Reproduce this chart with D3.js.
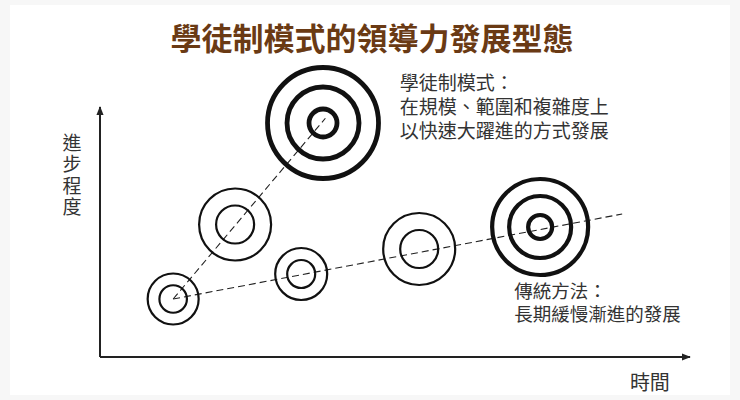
<!DOCTYPE html>
<html>
<head>
<meta charset="utf-8">
<script src="https://cdn.jsdelivr.net/npm/d3@7"></script>
<style>
  html, body { margin: 0; padding: 0; background: #f7f7f7; }
  svg { display: block; }
  text { font-family: "Noto Sans CJK TC", "Noto Sans CJK SC", "Noto Sans", sans-serif; }
</style>
</head>
<body>
<svg id="chart" width="740" height="400"></svg>
<script>
// ---- data ----
const title = "學徒制模式的領導力發展型態";
const xLabel = "時間";
const yLabel = "進步程度";

// circle groups (time, progress) in data units
const circleNames = ["A", "B", "C", "D", "E", "F"];
const circleTime = [12.4, 22.9, 34.1, 37.8, 54.1, 74.6];
const circleProgress = [23.2, 53.0, 33.2, 93.6, 43.2, 52.0];
// ring sizes (in ring units) for each circle group
const circleRings = [
  [2.75, 5.1],
  [3.8, 7.2],
  [2.8, 5.2],
  [2.8, 7.2, 11.1],
  [3.8, 7.2],
  [2.4, 6.2, 9.6]
];
const circleBold = [false, false, false, true, false, true];

// trend lines: [startTime, startProgress, endTime, endProgress]
const trendApprentice = [12.4, 23.2, 38.2, 95.5];
const trendTraditional = [12.4, 23.2, 88.5, 57.2];

const noteApprentice = ["學徒制模式：", "在規模、範圍和複雜度上", "以快速大躍進的方式發展"];
const noteTraditional = ["傳統方法：", "長期緩慢漸進的發展"];
const noteApprenticePos = [50.8, 107];
const noteTraditionalPos = [70.2, 23.5];

// ---- drawing ----
const svg = d3.select("#chart");

svg.append("rect").attr("x", 10).attr("y", 5).attr("width", 720).attr("height", 390).attr("fill", "#ffffff");

const x = d3.scaleLinear().domain([0, 100]).range([100, 690]);
const y = d3.scaleLinear().domain([0, 100]).range([357, 107]);
const r = d3.scaleLinear().domain([0, 10]).range([0, 50]);

// title
svg.append("text")
  .attr("x", 372).attr("y", 50)
  .attr("text-anchor", "middle")
  .attr("font-size", 31).attr("font-weight", 700)
  .attr("fill", "#6a3a14")
  .text(title);

// arrow marker
const defs = svg.append("defs");
defs.append("marker")
  .attr("id", "arrow")
  .attr("viewBox", "0 0 10 10")
  .attr("refX", 9).attr("refY", 5)
  .attr("markerWidth", 4.5).attr("markerHeight", 4.5)
  .attr("markerUnits", "strokeWidth")
  .attr("orient", "auto")
  .append("path").attr("d", "M0,1 L10,5 L0,9 Z").attr("fill", "#222");

// axes
const axisG = svg.append("g").attr("stroke", "#222").attr("stroke-width", 2).attr("fill", "none");
axisG.append("path")
  .attr("d", d3.line()([[x(0), y(0)], [x(0), y(100)]]))
  .attr("marker-end", "url(#arrow)");
axisG.append("path")
  .attr("d", d3.line()([[x(0), y(0)], [x(100), y(0)]]))
  .attr("marker-end", "url(#arrow)");

// axis labels
svg.append("text")
  .attr("x", x(93.2)).attr("y", 390)
  .attr("text-anchor", "middle")
  .attr("font-size", 20).attr("fill", "#333")
  .text(xLabel);

svg.append("text")
  .attr("x", 72)
  .attr("y", 133)
  .style("writing-mode", "vertical-rl")
  .style("text-orientation", "upright")
  .style("letter-spacing", "2.5px")
  .attr("font-size", 19).attr("fill", "#333")
  .text(yLabel);

// trend lines
const trendG = svg.append("g").attr("stroke", "#222").attr("stroke-width", 1.1)
  .attr("stroke-dasharray", "7,4").attr("fill", "none");
[trendApprentice, trendTraditional].forEach(t => {
  trendG.append("path").attr("d", d3.line()([[x(t[0]), y(t[1])], [x(t[2]), y(t[3])]]));
});

// circles
const groups = svg.append("g").selectAll("g").data(circleNames).join("g")
  .attr("transform", (d, i) => `translate(${x(circleTime[i])},${y(circleProgress[i])})`);
groups.each(function (d, i) {
  d3.select(this).selectAll("circle").data(circleRings[i]).join("circle")
    .attr("r", v => r(v))
    .attr("fill", "none")
    .attr("stroke", "#111")
    .attr("stroke-width", circleBold[i] ? (i === 3 ? 4.8 : 4.2) : 2.2);
});

// notes (one text block each, lines as tspans)
function note(lines, pos, size, lh) {
  const t = svg.append("text")
    .attr("x", x(pos[0]))
    .attr("y", y(pos[1]))
    .attr("font-size", size).attr("fill", "#333");
  t.selectAll("tspan").data(lines).join("tspan")
    .attr("x", x(pos[0]))
    .attr("dy", (d, i) => i === 0 ? 0 : lh)
    .text(d => d);
}
note(noteApprentice, noteApprenticePos, 19, 24);
note(noteTraditional, noteTraditionalPos, 18.5, 23);
</script>
</body>
</html>
